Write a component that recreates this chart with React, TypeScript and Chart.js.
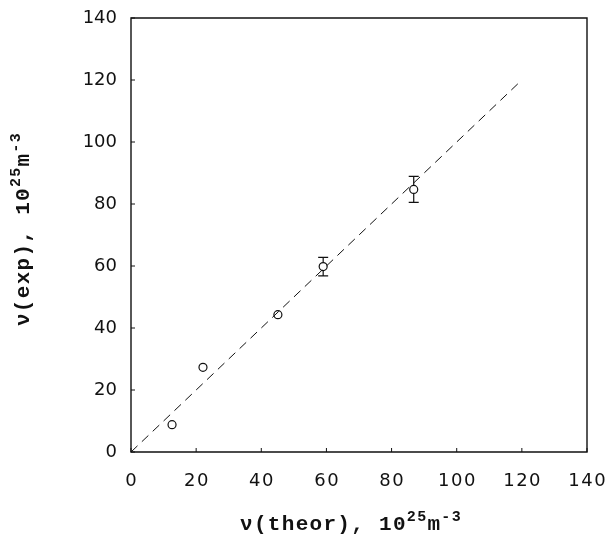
import React, { useEffect, useRef } from "react";
import { Chart, registerables } from "chart.js";
Chart.register(...registerables);

const xTheor = [12.6, 22.1, 45.1, 59.0, 86.8];
const yExp = [8.8, 27.3, 44.3, 59.8, 84.7];
const yErr = [0, 0, 0, 3.0, 4.2];
const fitX = [0, 120];
const fitY = [0, 120];
const tickValues = [0, 20, 40, 60, 80, 100, 120, 140];
const tickLabels = ["0", "20", "40", "60", "80", "100", "120", "140"];
const xTitleParts = [
  { text: "\u03bd(theor), 10", sup: false },
  { text: "25", sup: true },
  { text: "m", sup: false },
  { text: "-3", sup: true },
];
const yTitleParts = [
  { text: "\u03bd(exp), 10", sup: false },
  { text: "25", sup: true },
  { text: "m", sup: false },
  { text: "-3", sup: true },
];

const TICK_FONT = "18px 'DejaVu Sans', sans-serif";
const TITLE_FONT = "bold 21px 'Liberation Mono', 'DejaVu Sans Mono', monospace";
const SUP_FONT = "bold 15px 'Liberation Mono', 'DejaVu Sans Mono', monospace";
const INK = "#111";

function drawRich(ctx: any, parts: { text: string; sup: boolean }[], cx: number, cy: number, rotate: boolean) {
  ctx.save();
  ctx.translate(cx, cy);
  if (rotate) ctx.rotate(-Math.PI / 2);
  ctx.fillStyle = INK;
  ctx.textAlign = "left";
  ctx.textBaseline = "alphabetic";
  const widths = parts.map((p) => {
    ctx.font = p.sup ? SUP_FONT : TITLE_FONT;
    ctx.letterSpacing = "1.3px";
    return ctx.measureText(p.text).width;
  });
  const total = widths.reduce((a, b) => a + b, 0);
  let x = -total / 2;
  parts.forEach((p, i) => {
    ctx.font = p.sup ? SUP_FONT : TITLE_FONT;
    ctx.letterSpacing = "1.3px";
    ctx.fillText(p.text, x, p.sup ? -2 : 7);
    x += widths[i];
  });
  ctx.restore();
}

const framePlugin = {
  id: "frameAndText",
  afterDatasetsDraw(chart: any) {
    const { ctx, chartArea, scales } = chart;
    const xs = scales.x;
    const ys = scales.y;
    ctx.save();
    ctx.strokeStyle = INK;
    ctx.lineWidth = 1.4;
    ctx.beginPath();
    ctx.moveTo(chartArea.left, chartArea.top);
    ctx.lineTo(chartArea.right, chartArea.top);
    ctx.lineTo(chartArea.right, chartArea.bottom);
    ctx.lineTo(chartArea.left, chartArea.bottom);
    ctx.closePath();
    ctx.stroke();
    // inward ticks
    ctx.lineWidth = 1;
    tickValues.forEach((v) => {
      const px = xs.getPixelForValue(v);
      ctx.beginPath();
      ctx.moveTo(px, chartArea.bottom);
      ctx.lineTo(px, chartArea.bottom - 4);
      ctx.stroke();
      const py = ys.getPixelForValue(v);
      ctx.beginPath();
      ctx.moveTo(chartArea.left, py);
      ctx.lineTo(chartArea.left + 4, py);
      ctx.stroke();
    });
    // error bars
    ctx.lineWidth = 1.2;
    for (let i = 0; i < xTheor.length; i++) {
      if (!yErr[i]) continue;
      const px = xs.getPixelForValue(xTheor[i]);
      const pTop = ys.getPixelForValue(yExp[i] + yErr[i]);
      const pBot = ys.getPixelForValue(yExp[i] - yErr[i]);
      const pc = ys.getPixelForValue(yExp[i]);
      ctx.beginPath();
      ctx.moveTo(px, pTop);
      ctx.lineTo(px, pc - 4);
      ctx.moveTo(px, pc + 4);
      ctx.lineTo(px, pBot);
      ctx.moveTo(px - 5, pTop);
      ctx.lineTo(px + 5, pTop);
      ctx.moveTo(px - 5, pBot);
      ctx.lineTo(px + 5, pBot);
      ctx.stroke();
    }
    // tick labels
    ctx.fillStyle = INK;
    ctx.font = TICK_FONT;
    ctx.textBaseline = "middle";
    ctx.textAlign = "center";
    ctx.letterSpacing = "1.5px";
    tickValues.forEach((v, i) => {
      ctx.fillText(tickLabels[i], xs.getPixelForValue(v) + 0.75, chartArea.bottom + 29);
    });
    ctx.letterSpacing = "0px";
    ctx.textAlign = "right";
    tickValues.forEach((v, i) => {
      ctx.fillText(tickLabels[i], chartArea.left - 14, ys.getPixelForValue(v));
    });
    ctx.restore();
    // axis titles
    drawRich(ctx, xTitleParts, (chartArea.left + chartArea.right) / 2 - 8, chartArea.bottom + 71, false);
    drawRich(ctx, yTitleParts, 22, (chartArea.top + chartArea.bottom) / 2 - 6, true);
  },
};

export default function App() {
  const ref = useRef<HTMLCanvasElement>(null);
  useEffect(() => {
    document.body.style.margin = "0";
    const canvas = ref.current!;
    const chart = new Chart(canvas, {
      type: "scatter",
      data: {
        datasets: [
          {
            label: "fit",
            data: fitX.map((x, i) => ({ x, y: fitY[i] })),
            showLine: true,
            borderColor: INK,
            borderWidth: 1,
            borderDash: [9, 6],
            pointRadius: 0,
            fill: false,
          },
          {
            label: "data",
            data: xTheor.map((x, i) => ({ x, y: yExp[i] })),
            showLine: false,
            pointStyle: "circle",
            pointRadius: 4,
            pointBorderWidth: 1.2,
            pointBorderColor: INK,
            pointBackgroundColor: "#fff",
          },
        ],
      },
      options: {
        responsive: false,
        animation: false,
        layout: { padding: { left: 0, right: 24, top: 18, bottom: 0 } },
        plugins: { legend: { display: false }, tooltip: { enabled: false } },
        scales: {
          x: {
            type: "linear",
            min: 0,
            max: 140,
            ticks: { display: false, stepSize: 20 },
            grid: { display: false, drawTicks: false },
            border: { display: false },
            title: { display: false },
            afterFit: (s: any) => {
              s.height = 86;
              s.paddingLeft = 0;
              s.paddingRight = 0;
            },
          },
          y: {
            type: "linear",
            min: 0,
            max: 140,
            ticks: { display: false, stepSize: 20 },
            grid: { display: false, drawTicks: false },
            border: { display: false },
            title: { display: false },
            afterFit: (s: any) => {
              s.width = 131;
              s.paddingTop = 0;
              s.paddingBottom = 0;
            },
          },
        },
      },
      plugins: [framePlugin],
    });
    return () => chart.destroy();
  }, []);
  return <canvas ref={ref} width={611} height={538} style={{ display: "block" }} />;
}
